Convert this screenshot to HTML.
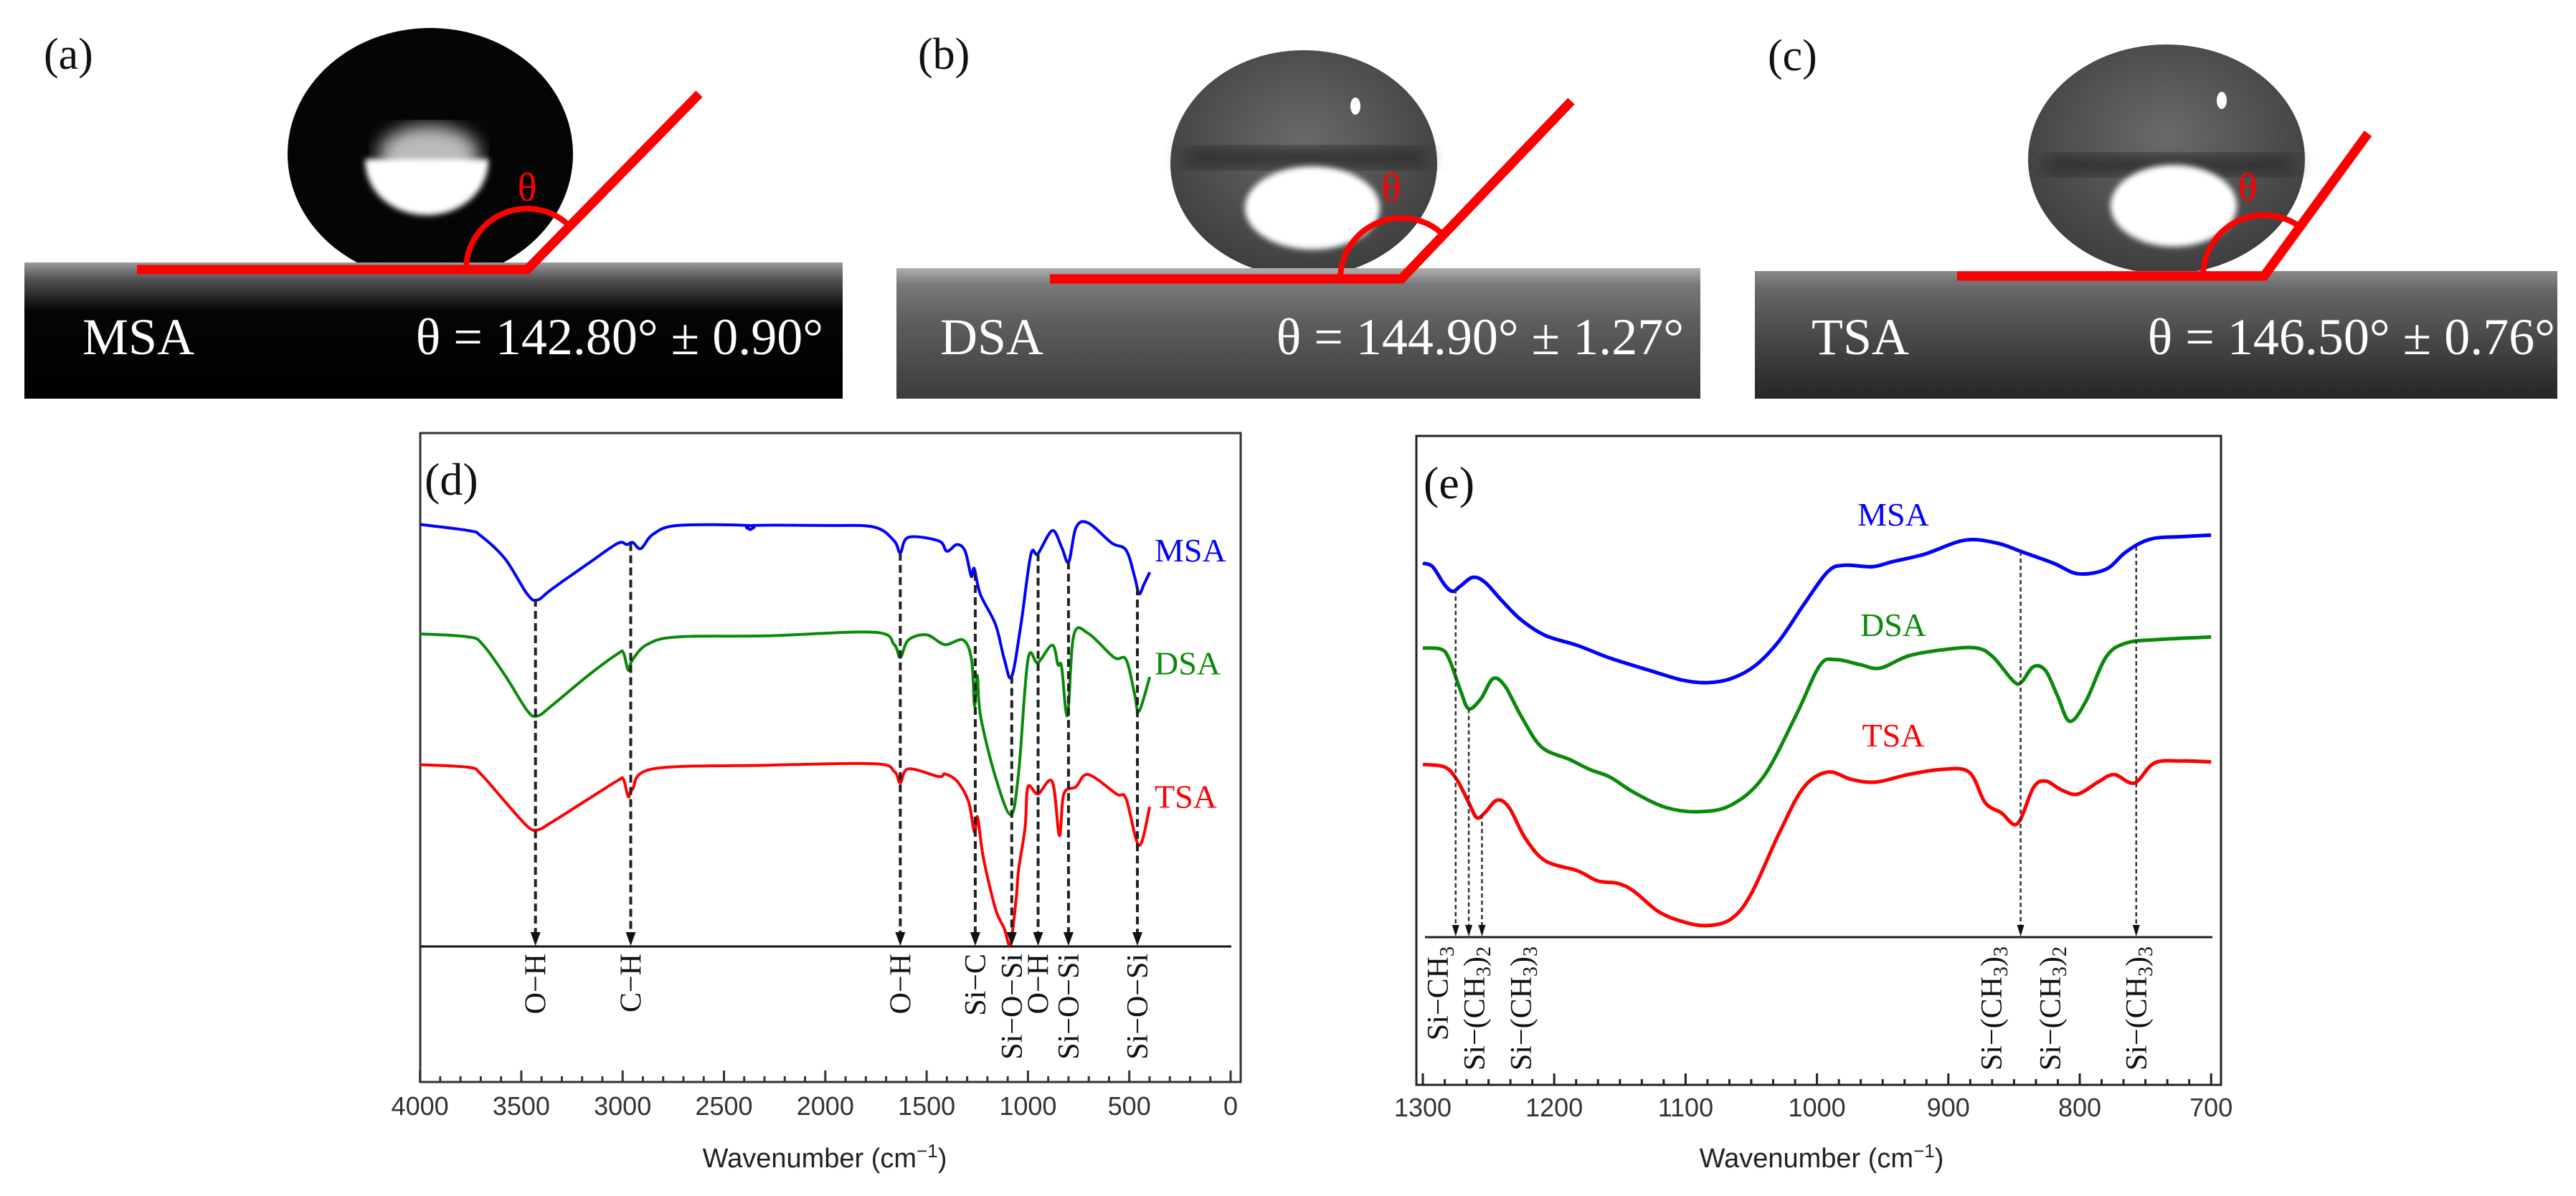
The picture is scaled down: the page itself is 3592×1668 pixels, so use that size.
<!DOCTYPE html>
<html><head><meta charset="utf-8">
<style>
html,body{margin:0;padding:0;background:#fff;}
svg{display:block;}
.ser{font-family:"Liberation Serif",serif;}
.san{font-family:"Liberation Sans",sans-serif;}
</style></head>
<body>
<svg id="fig" width="3592" height="1668" viewBox="0 0 3592 1668" xmlns="http://www.w3.org/2000/svg">
<defs>
  <linearGradient id="subA" x1="0" y1="0" x2="0" y2="1">
    <stop offset="0" stop-color="#9a9a9a"/><stop offset="0.12" stop-color="#555"/><stop offset="0.35" stop-color="#050505"/><stop offset="1" stop-color="#000"/>
  </linearGradient>
  <linearGradient id="subB" x1="0" y1="0" x2="0" y2="1">
    <stop offset="0" stop-color="#b0b0b0"/><stop offset="0.12" stop-color="#7a7a7a"/><stop offset="0.4" stop-color="#5e5e5e"/><stop offset="1" stop-color="#3c3c3c"/>
  </linearGradient>
  <linearGradient id="subC" x1="0" y1="0" x2="0" y2="1">
    <stop offset="0" stop-color="#8a8a8a"/><stop offset="0.15" stop-color="#666"/><stop offset="0.5" stop-color="#4a4a4a"/><stop offset="1" stop-color="#262626"/>
  </linearGradient>
  <radialGradient id="dropB" cx="0.5" cy="0.4" r="0.6">
    <stop offset="0" stop-color="#6a6a6a"/><stop offset="1" stop-color="#3e3e3e"/>
  </radialGradient>
  <filter id="blur4"><feGaussianBlur stdDeviation="4"/></filter>
  <filter id="blur12"><feGaussianBlur stdDeviation="12"/></filter>
</defs>

<!-- Panel a -->
<g id="panel-a">
  <ellipse cx="600" cy="215" rx="199" ry="176" fill="#050505"/>
  <ellipse cx="598" cy="215" rx="70" ry="40" fill="#bbb" filter="url(#blur12)"/>
  <path d="M509,222 L681,222 C681,270 640,300 595,300 C550,300 509,270 509,222 Z" fill="#fff" filter="url(#blur4)"/>
  <rect x="34" y="366" width="1141" height="190" fill="url(#subA)"/>
  <text x="61" y="96" class="ser" font-size="62" fill="#111">(a)</text>
  <text x="115" y="494" class="ser" font-size="72" fill="#fff">MSA</text>
  <text x="1148" y="494" class="ser" font-size="72" fill="#fff" text-anchor="end">θ = 142.80° ± 0.90°</text>
</g>

<!-- Panel b -->
<g id="panel-b">
  <ellipse cx="1818" cy="228" rx="186" ry="158" fill="url(#dropB)"/>
  <rect x="1650" y="205" width="340" height="30" fill="#333" filter="url(#blur12)"/>
  <ellipse cx="1830" cy="290" rx="94" ry="58" fill="#fff" filter="url(#blur4)"/>
  <ellipse cx="1890" cy="148" rx="7" ry="12" fill="#fff"/>
  <rect x="1250" y="374" width="1121" height="182" fill="url(#subB)"/>
  <text x="1280" y="96" class="ser" font-size="62" fill="#111">(b)</text>
  <text x="1311" y="494" class="ser" font-size="72" fill="#fff">DSA</text>
  <text x="2348" y="494" class="ser" font-size="72" fill="#fff" text-anchor="end">θ = 144.90° ± 1.27°</text>
</g>

<!-- Panel c -->
<g id="panel-c">
  <ellipse cx="3021" cy="222" rx="193" ry="160" fill="url(#dropB)"/>
  <rect x="2850" y="215" width="350" height="30" fill="#333" filter="url(#blur12)"/>
  <ellipse cx="3031" cy="287" rx="88" ry="57" fill="#fff" filter="url(#blur4)"/>
  <ellipse cx="3098" cy="140" rx="7" ry="12" fill="#fff"/>
  <rect x="2447" y="378" width="1119" height="178" fill="url(#subC)"/>
  <text x="2465" y="98" class="ser" font-size="62" fill="#111">(c)</text>
  <text x="2526" y="494" class="ser" font-size="72" fill="#fff">TSA</text>
  <text x="3563" y="494" class="ser" font-size="72" fill="#fff" text-anchor="end">θ = 146.50° ± 0.76°</text>
</g>

<g id="red-overlays"></g>

<!-- Panel d frame -->
<g id="panel-d">
  <rect x="586" y="604" width="1144" height="905" fill="none" stroke="#333" stroke-width="3"/>
  <text x="592" y="690" class="ser" font-size="64" fill="#111">(d)</text>
  <text x="1150" y="1628" class="san" font-size="38" fill="#222" text-anchor="middle">Wavenumber (cm<tspan dy="-14" font-size="26">−1</tspan><tspan dy="14">)</tspan></text>
</g>
<g id="panel-e">
  <rect x="1975" y="608" width="1122" height="905" fill="none" stroke="#222" stroke-width="3"/>
  <text x="1985" y="695" class="ser" font-size="64" fill="#111">(e)</text>
  <text x="2540" y="1628" class="san" font-size="38" fill="#222" text-anchor="middle">Wavenumber (cm<tspan dy="-14" font-size="26">−1</tspan><tspan dy="14">)</tspan></text>
</g>
<g id="dyn"></g>
</svg>

<script>
// ===== Panel (d) data =====
const dMsaWn = [4000,3760,3700,3580,3470,3420,3350,3170,3025,2980,2950,2910,2850,2730,2380,2370,2360,2000,1760,1660,1630,1590,1440,1400,1350,1310,1280,1265,1235,1160,1117,1081,1035,986,951,880,834,799,763,703,587,516,474,452,428,399];
const dMsaT  = [82.2,81.0,80.0,75.5,68.6,67.5,69.6,74.6,78.5,78.3,78.7,77.5,80.3,82.0,82.0,81.2,82.0,82.0,81.7,79.0,76.7,79.7,79.0,77.0,78.3,77.0,72.1,73.6,68.6,62.7,56.0,52.5,62.6,76.3,76.5,81.0,77.8,74.9,81.6,82.5,78.6,77.2,72.1,68.7,70.5,72.9];
const dDsaWn = [4000,3760,3690,3580,3470,3420,3350,3170,3025,2996,2972,2952,2880,2730,2290,1760,1660,1630,1590,1500,1410,1320,1278,1264,1250,1234,1161,1085,1046,1000,951,880,852,834,805,774,703,575,516,474,452,399];
const dDsaT  = [60.9,60.3,58.8,52.8,45.9,44.9,46.9,52.8,57.0,57.2,53.8,55.8,58.8,60.3,60.5,61.2,58.8,56.3,59.7,60.7,58.8,59.7,55.8,46.9,52.8,44.9,33.1,25.7,33.9,55.9,55.3,58.7,54.9,54.5,45.0,60.6,61.0,56.3,55.9,49.2,45.8,52.5];
const dTsaWn = [4000,3760,3700,3580,3470,3420,3350,3170,3025,2996,2972,2952,2850,2290,1760,1660,1630,1590,1440,1410,1350,1293,1264,1249,1220,1161,1117,1087,1058,1046,1014,1000,951,880,845,823,763,703,563,516,452,399];
const dTsaT  = [35.4,34.9,33.6,28.2,23.4,22.7,24.2,28.7,32.3,32.6,29.2,30.6,34.6,35.3,35.6,34.1,31.9,34.6,33.1,33.6,32.2,28.2,22.2,25.2,17.3,7.4,3.5,0.5,9.4,15.0,23.2,31.1,29.7,32.1,21.6,29.7,31.1,33.5,29.7,28.8,19.7,27.2];
const dTicks = [4000,3500,3000,2500,2000,1500,1000,500,0];
const dTickLabels = ["4000","3500","3000","2500","2000","1500","1000","500","0"];
const dPeakWn = [3430,2960,1630,1260,1080,950,800,460];
const dPeakLabels = ["O−H","C−H","O−H","Si−C","Si−O−Si","O−H","Si−O−Si","Si−O−Si"];
const dSeriesNames = ["MSA","DSA","TSA"];
const dSeriesLabelT = [75,53,27];

// ===== Panel (e) data =====
const eMsaWn = [1300,1292.6,1283.4,1277.3,1271.1,1261.9,1252.7,1240.4,1225.1,1206.7,1182.1,1157.6,1126.9,1102.3,1084.1,1065.5,1047,1028.6,1010.2,991.8,979.5,958,942.7,918.1,887.4,862.8,844.4,819.9,801.4,780,764.6,746.2,721.6,700];
const eMsaT  = [74.5,73.8,70.2,68.9,70.0,71.7,70.7,67.2,63.2,60.1,58.1,55.6,53.1,51.2,50.7,51.5,54.1,59.1,66.2,72.8,74.1,73.8,74.8,76.3,79.1,78.5,76.8,74.5,72.4,73.3,76.8,79.3,79.8,80.1];
const eDsaWn = [1300,1286.5,1280.3,1271.1,1265,1255.8,1246.6,1237.4,1225.1,1209.7,1188.3,1172.9,1157.6,1139.1,1114.6,1090,1065.5,1040.9,1016.3,997.9,985.6,967.2,951.9,929.6,899.7,878.2,865.9,850.5,844.4,835.2,826,816.8,807.6,795.3,780,764.6,740,700];
const eDsaT  = [57.6,57.4,55.6,49.0,45.5,47.5,51.5,50.0,44.0,37.9,35.4,33.4,31.9,28.8,25.8,25.0,26.3,31.9,44.0,54.1,55.3,54.3,53.6,56.1,57.4,57.6,55.8,51.0,50.8,53.9,53.1,48.0,43.0,47.0,55.8,58.6,59.3,59.8];
const eTsaWn = [1300,1283.4,1274.2,1265,1258.9,1252.7,1243.5,1234.3,1222,1206.7,1182.1,1166.8,1151.4,1139.1,1120.7,1102.3,1084.1,1065.5,1050.1,1028.6,1010.2,991.8,973.4,955.1,930.4,905.8,884.3,872,859.8,847.5,835.2,826,813.7,801.4,786.1,773.8,758.5,743.1,721.6,700];
const eTsaT  = [34.4,33.9,31.4,26.8,23.8,24.8,27.3,25.8,19.7,15.2,13.2,11.2,10.7,9.1,5.1,3.1,2.3,3.6,8.6,20.8,29.8,32.9,31.4,30.9,32.4,33.4,32.9,26.8,24.8,22.6,29.8,31.1,29.3,28.5,30.9,32.4,30.7,34.7,35.1,34.9];
const eTicks = [1300,1200,1100,1000,900,800,700];
const eTickLabels = ["1300","1200","1100","1000","900","800","700"];
const ePeakWn = [1275,1265,1255,845,757];
const ePeakFrom = [0,1,2,0,0];
const ePeakLabels = [["Si−CH","3",""],["Si−(CH","3",")","2"],["Si−(CH","3",")","3"],["Si−(CH","3",")","3"],["Si−(CH","3",")","3"]];
const ePeakLabelX = [2004,2055,2120,2776,2978];
const ePeakLabel2X = 2858;
const eSeriesNames = ["MSA","DSA","TSA"];
const eSeriesLabelT = [82,60,38];

const colors = ["#0000ff","#0a8a0a","#ff0000"];
const NS = "http://www.w3.org/2000/svg";
const dyn = document.getElementById("dyn");
function mk(tag, attrs, parent){const el=document.createElementNS(NS,tag);for(const k in attrs)el.setAttribute(k,attrs[k]);(parent||dyn).appendChild(el);return el;}

// axis functions
const xd = wn => 1716 - wn*0.2826;
const yd = t => 1320 - t*7.16;
const xe = wn => 1984 + (1300-wn)*1.832;
const ye = t => 1307 - t*7.0;

function interp(wnArr, tArr, wn){
  for(let i=0;i<wnArr.length-1;i++){
    const a=wnArr[i], b=wnArr[i+1];
    if((wn<=a && wn>=b)){const f=(a-wn)/(a-b);return tArr[i]+f*(tArr[i+1]-tArr[i]);}
  }
  return tArr[tArr.length-1];
}
function smoothPath(pts){
  let d="M"+pts[0][0].toFixed(1)+","+pts[0][1].toFixed(1);
  for(let i=0;i<pts.length-1;i++){
    const p0=pts[Math.max(0,i-1)],p1=pts[i],p2=pts[i+1],p3=pts[Math.min(pts.length-1,i+2)];
    const c1=[p1[0]+(p2[0]-p0[0])/6,p1[1]+(p2[1]-p0[1])/6];
    const c2=[p2[0]-(p3[0]-p1[0])/6,p2[1]-(p3[1]-p1[1])/6];
    d+=" C"+c1[0].toFixed(1)+","+c1[1].toFixed(1)+" "+c2[0].toFixed(1)+","+c2[1].toFixed(1)+" "+p2[0].toFixed(1)+","+p2[1].toFixed(1);
  }
  return d;
}

// ===== Panel d =====
mk("line",{x1:586,y1:1320,x2:1717,y2:1320,stroke:"#111","stroke-width":3});


for(let v=4000; v>=0; v-=100){
  const major = v%500===0;
  const t = mk("line",{x1:xd(v),x2:xd(v),y1:1509,y2:1509-(major?16:8),stroke:"#333","stroke-width":3});
  
  
}
dTicks.forEach((v,i)=>{
  const t = mk("text",{x:xd(v),y:1555,"text-anchor":"middle","font-size":36,fill:"#333","class":"san"});
  t.textContent=dTickLabels[i];
  
  
});
const dWn=[dMsaWn,dDsaWn,dTsaWn], dT=[dMsaT,dDsaT,dTsaT];
for(let s=0;s<3;s++){
  const pts=dWn[s].map((w,i)=>[xd(w),yd(dT[s][i])]);
  const p=mk("path",{d:smoothPath(pts),fill:"none",stroke:colors[s],"stroke-width":4,"stroke-linejoin":"round"});
  
  
  const l=mk("text",{x:1610,y:yd(dSeriesLabelT[s])+0,"font-size":46,fill:colors[s],"class":"ser"});
  l.textContent=dSeriesNames[s];
  
  
}
dPeakWn.forEach((w,i)=>{
  const x=xd(w), y0=yd(interp(dMsaWn,dMsaT,w));
  const ln=mk("line",{x1:x,y1:y0,x2:x,y2:1302,stroke:"#222","stroke-width":4,"stroke-dasharray":"11,6"});
  
  
  const ah=mk("path",{d:`M${x-7},1300 L${x+7},1300 L${x},1319 Z`,fill:"#111"});
  
  
  const tx=mk("text",{x:0,y:0,transform:`translate(${x+14},1330) rotate(-90)`,"text-anchor":"end","font-size":42,fill:"#111","class":"ser"});
  tx.textContent=dPeakLabels[i];
  
  
});

// ===== Panel e =====
mk("line",{x1:1987,y1:1307,x2:3085,y2:1307,stroke:"#222","stroke-width":3});


for(let k=0;k<=36;k++){
  const v=1300-k*100/6;
  const major = k%6===0;
  const t=mk("line",{x1:xe(v),x2:xe(v),y1:1513,y2:1513-(major?16:8),stroke:"#222","stroke-width":3});
  
  
}
eTicks.forEach((v,i)=>{
  const t=mk("text",{x:xe(v),y:1557,"text-anchor":"middle","font-size":36,fill:"#333","class":"san"});
  t.textContent=eTickLabels[i];
  
  
});
const eWn=[eMsaWn,eDsaWn,eTsaWn], eT=[eMsaT,eDsaT,eTsaT];
for(let s=0;s<3;s++){
  const pts=eWn[s].map((w,i)=>[xe(w),ye(eT[s][i])]);
  const p=mk("path",{d:smoothPath(pts),fill:"none",stroke:colors[s],"stroke-width":5,"stroke-linejoin":"round"});
  
  
  const l=mk("text",{x:2640,y:ye(eSeriesLabelT[s]),"text-anchor":"middle","font-size":46,fill:colors[s],"class":"ser"});
  l.textContent=eSeriesNames[s];
  
  
}
ePeakWn.forEach((w,i)=>{
  const x=xe(w), s=ePeakFrom[i];
  const y0=ye(interp(eWn[s],eT[s],w));
  const ln=mk("line",{x1:x,y1:y0,x2:x,y2:1292,stroke:"#333","stroke-width":2.5,"stroke-dasharray":"6,4"});
  
  
  const ah=mk("path",{d:`M${x-5},1290 L${x+5},1290 L${x},1306 Z`,fill:"#111"});
  
  
});
const eLabelXs=[ePeakLabelX[0],ePeakLabelX[1],ePeakLabelX[2],ePeakLabelX[3],ePeakLabel2X,ePeakLabelX[4]];
const eLabelParts=[ePeakLabels[0],ePeakLabels[1],ePeakLabels[2],ePeakLabels[3],ePeakLabels[1],ePeakLabels[4]];
eLabelXs.forEach((x,i)=>{
  const parts=eLabelParts[i];
  const tx=mk("text",{x:0,y:0,transform:`translate(${x+15},1320) rotate(-90)`,"text-anchor":"end","font-size":42,fill:"#111","class":"ser"});
  
  
  let html=parts[0]+`<tspan font-size="28" dy="8">${parts[1]}</tspan>`;
  if(parts.length>3){html+=`<tspan dy="-8">${parts[2]}</tspan><tspan font-size="28" dy="8">${parts[3]}</tspan>`;}
  tx.innerHTML=html;
});

// ===== Red contact-angle overlays =====
const red=document.getElementById("red-overlays");
const vertX=[735,1954,3157], vertY=[376,389,385], lineStartX=[191,1464,2729], slantEndX=[975,2191,3302], slantEndY=[131,141,186];
const thetaX=[735,1940,3134];
for(let i=0;i<3;i++){
  const vx=vertX[i], vy=vertY[i];
  const h=mk("polyline",{points:`${lineStartX[i]},${vy} ${vx},${vy} ${slantEndX[i]},${slantEndY[i]}`,fill:"none",stroke:"#ff0000","stroke-width":13,"stroke-linejoin":"miter"},red);
  
  
  const dx=slantEndX[i]-vx, dy=slantEndY[i]-vy, L=Math.hypot(dx,dy), r=85;
  const a=mk("path",{d:`M${vx-r},${vy} A${r},${r} 0 0 1 ${vx+dx/L*r},${vy+dy/L*r}`,fill:"none",stroke:"#ff0000","stroke-width":8},red);
  
  
  const t=mk("text",{x:thetaX[i],y:280,"text-anchor":"middle","font-size":56,fill:"#ff0000","class":"ser"},red);
  t.textContent="θ";
  
  
}
</script>
</body></html>
